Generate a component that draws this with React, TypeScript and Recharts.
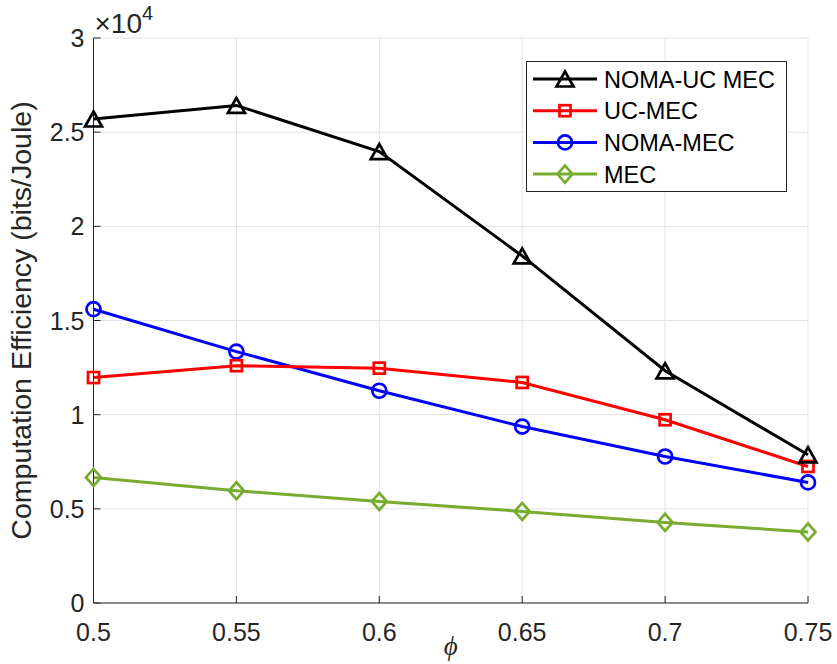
import React from 'react';
import { LineChart, Line, XAxis, YAxis, CartesianGrid } from 'recharts';

// Offloading ratio on the x axis
const phiValues = [0.5, 0.55, 0.6, 0.65, 0.7, 0.75];

// Computation efficiency (bits/Joule) for each scheme
const nomaUcMec = [25700, 26420, 23970, 18430, 12330, 7870];
const ucMec = [11970, 12600, 12470, 11710, 9730, 7250];
const nomaMec = [15600, 13350, 11270, 9370, 7780, 6400];
const mecOnly = [6670, 5960, 5390, 4860, 4280, 3770];

const xTicks = [0.5, 0.55, 0.6, 0.65, 0.7, 0.75];
const yTicks = [0, 5000, 10000, 15000, 20000, 25000, 30000];
const yTickLabels = ['0', '0.5', '1', '1.5', '2', '2.5', '3'];

const seriesNames = ['NOMA-UC MEC', 'UC-MEC', 'NOMA-MEC', 'MEC'];
const seriesColors = ['#000000', '#ff0000', '#0000ff', '#77ac30'];
const seriesShapes = ['triangle', 'square', 'circle', 'diamond'];

const data = phiValues.map((phi, i) => ({
  phi,
  nomaUc: nomaUcMec[i],
  uc: ucMec[i],
  noma: nomaMec[i],
  mec: mecOnly[i],
}));

const FONT = '"Liberation Sans", Arial, Helvetica, sans-serif';
const AXIS_COLOR = '#262626';
const TICK_LEN = 7;
const LINE_W = 3;

function Marker({ shape, cx, cy, color }: { shape: string; cx: number; cy: number; color: string }) {
  const sw = 2.7;
  if (shape === 'triangle') {
    const w = 8.5;
    const h = 7.5;
    return (
      <polygon
        points={`${cx},${cy - h} ${cx + w},${cy + h} ${cx - w},${cy + h}`}
        fill="none"
        stroke={color}
        strokeWidth={sw}
        strokeLinejoin="miter"
      />
    );
  }
  if (shape === 'square') {
    const s = 5.5;
    return <rect x={cx - s} y={cy - s} width={2 * s} height={2 * s} fill="none" stroke={color} strokeWidth={sw} />;
  }
  if (shape === 'circle') {
    return <circle cx={cx} cy={cy} r={7} fill="none" stroke={color} strokeWidth={sw} />;
  }
  const w = 7.5;
  const h = 8.5;
  return (
    <polygon
      points={`${cx},${cy - h} ${cx + w},${cy} ${cx},${cy + h} ${cx - w},${cy}`}
      fill="none"
      stroke={color}
      strokeWidth={sw}
    />
  );
}

const makeDot = (shape: string, color: string) => (props: any) => {
  const { cx, cy, index } = props;
  if (cx == null || cy == null) return <g key={`d-${index}`} />;
  return (
    <g key={`${shape}-${index}`}>
      <Marker shape={shape} cx={cx} cy={cy} color={color} />
    </g>
  );
};

const BottomTick = (props: any) => {
  const { x, y, payload } = props;
  return (
    <g>
      <line x1={x} y1={y} x2={x} y2={y - TICK_LEN} stroke={AXIS_COLOR} strokeWidth={1} />
      <text x={x} y={y + 38} textAnchor="middle" fontFamily={FONT} fontSize={25} fill={AXIS_COLOR}>
        {String(payload.value)}
      </text>
    </g>
  );
};

const TopTick = (props: any) => {
  const { x, y } = props;
  return <line x1={x} y1={y} x2={x} y2={y + TICK_LEN} stroke={AXIS_COLOR} strokeWidth={1} />;
};

const LeftTick = (props: any) => {
  const { x, y, payload } = props;
  const idx = yTicks.indexOf(payload.value);
  return (
    <g>
      <line x1={x} y1={y} x2={x + TICK_LEN} y2={y} stroke={AXIS_COLOR} strokeWidth={1} />
      <text x={x - 9} y={y + 9} textAnchor="end" fontFamily={FONT} fontSize={25} fill={AXIS_COLOR}>
        {idx >= 0 ? yTickLabels[idx] : ''}
      </text>
    </g>
  );
};

const RightTick = (props: any) => {
  const { x, y } = props;
  return <line x1={x} y1={y} x2={x - TICK_LEN} y2={y} stroke={AXIS_COLOR} strokeWidth={1} />;
};

const LegendBox = () => {
  const rowGap = 31.7;
  return (
    <svg width={262} height={132} style={{ display: 'block' }}>
      <rect x={0.5} y={0.5} width={260} height={130} fill="#ffffff" stroke={AXIS_COLOR} strokeWidth={1} />
      {seriesNames.map((name, i) => {
        const cy = 18 + i * rowGap;
        return (
          <g key={name}>
            <line x1={7} y1={cy} x2={71} y2={cy} stroke={seriesColors[i]} strokeWidth={LINE_W} />
            <Marker shape={seriesShapes[i]} cx={39} cy={cy} color={seriesColors[i]} />
            <text x={78} y={cy + 8.5} fontFamily={FONT} fontSize={23.5} fill="#000000">
              {name}
            </text>
          </g>
        );
      })}
    </svg>
  );
};

export default function App() {
  return (
    <div style={{ position: 'absolute', left: 0, top: 0, width: 837, height: 664, background: '#ffffff' }}>
      <LineChart width={837} height={664} data={data} margin={{ top: 38, right: 29, left: 0, bottom: 0 }}>
        <CartesianGrid stroke="#e3e3e3" strokeWidth={1} xAxisId="bottom" yAxisId="left" />
        <XAxis
          xAxisId="bottom"
          dataKey="phi"
          type="number"
          domain={[0.5, 0.75]}
          ticks={xTicks}
          height={61}
          tickSize={0}
          tickMargin={0}
          tick={<BottomTick />}
          axisLine={{ stroke: AXIS_COLOR, strokeWidth: 1 }}
          label={{
            content: (p: any) => {
              const vb = p.viewBox;
              return (
                <text
                  x={vb.x + vb.width / 2}
                  y={vb.y + 52}
                  textAnchor="middle"
                  fontFamily='"Liberation Serif", "DejaVu Serif", serif'
                  fontStyle="italic"
                  fontSize={27}
                  fill={AXIS_COLOR}
                >
                  ϕ
                </text>
              );
            },
          }}
        />
        <XAxis
          xAxisId="top"
          orientation="top"
          dataKey="phi"
          type="number"
          domain={[0.5, 0.75]}
          ticks={xTicks}
          height={0}
          tickSize={0}
          tickMargin={0}
          tick={<TopTick />}
          axisLine={{ stroke: AXIS_COLOR, strokeWidth: 1 }}
        />
        <YAxis
          yAxisId="left"
          type="number"
          domain={[0, 30000]}
          ticks={yTicks}
          width={93.5}
          tickSize={0}
          tickMargin={0}
          tick={<LeftTick />}
          axisLine={{ stroke: AXIS_COLOR, strokeWidth: 1 }}
          label={{
            content: (p: any) => {
              const vb = p.viewBox;
              const cx = vb.x + 31;
              const cy = vb.y + vb.height / 2;
              const ex = vb.x + vb.width + 1;
              const ey = vb.y - 5;
              return (
                <g>
                  <text
                    x={cx}
                    y={cy}
                    transform={`rotate(-90 ${cx} ${cy})`}
                    textAnchor="middle"
                    fontFamily={FONT}
                    fontSize={28.5}
                    fill={AXIS_COLOR}
                  >
                    Computation Efficiency (bits/Joule)
                  </text>
                  <text x={ex} y={ey} fontFamily={FONT} fontSize={28} fill={AXIS_COLOR}>
                    ×10
                    <tspan fontSize={20} dy={-13}>
                      4
                    </tspan>
                  </text>
                </g>
              );
            },
          }}
        />
        <YAxis
          yAxisId="right"
          orientation="right"
          type="number"
          domain={[0, 30000]}
          ticks={yTicks}
          width={0}
          tickSize={0}
          tickMargin={0}
          tick={<RightTick />}
          axisLine={{ stroke: AXIS_COLOR, strokeWidth: 1 }}
        />
        <Line
          xAxisId="bottom"
          yAxisId="left"
          dataKey="mec"
          stroke={seriesColors[3]}
          strokeWidth={LINE_W}
          dot={makeDot('diamond', seriesColors[3])}
          isAnimationActive={false}
        />
        <Line
          xAxisId="bottom"
          yAxisId="left"
          dataKey="noma"
          stroke={seriesColors[2]}
          strokeWidth={LINE_W}
          dot={makeDot('circle', seriesColors[2])}
          isAnimationActive={false}
        />
        <Line
          xAxisId="bottom"
          yAxisId="left"
          dataKey="uc"
          stroke={seriesColors[1]}
          strokeWidth={LINE_W}
          dot={makeDot('square', seriesColors[1])}
          isAnimationActive={false}
        />
        <Line
          xAxisId="bottom"
          yAxisId="left"
          dataKey="nomaUc"
          stroke={seriesColors[0]}
          strokeWidth={LINE_W}
          dot={makeDot('triangle', seriesColors[0])}
          isAnimationActive={false}
        />
      </LineChart>
      <div style={{ position: 'absolute', left: 525.5, top: 60.5 }}>
        <LegendBox />
      </div>
    </div>
  );
}
